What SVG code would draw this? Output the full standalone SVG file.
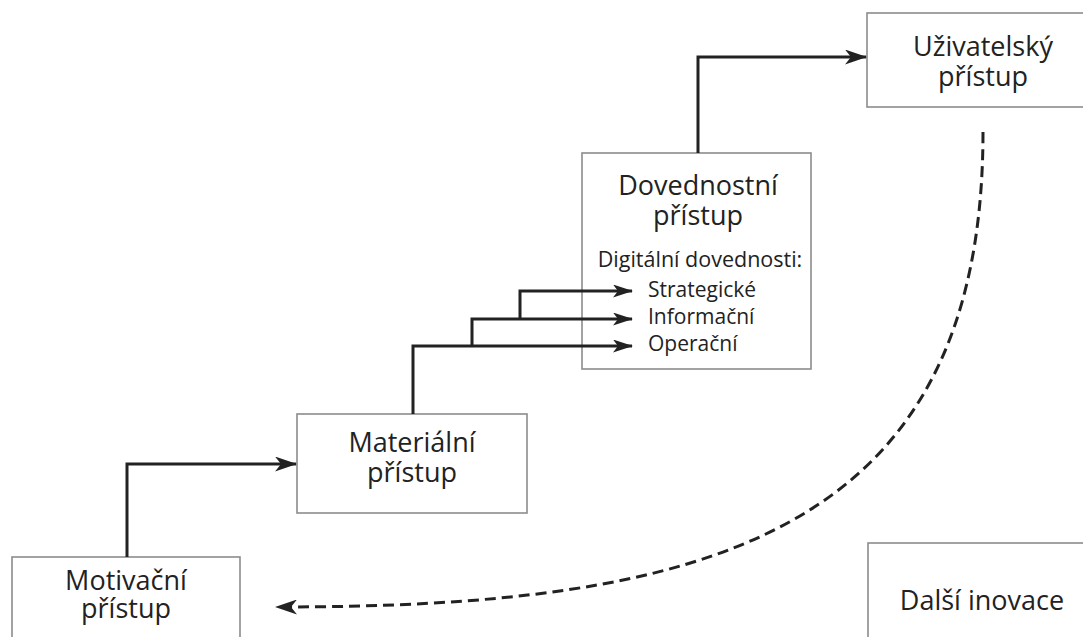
<svg xmlns="http://www.w3.org/2000/svg" width="1083" height="637" viewBox="0 0 1083 637">
<style>
.box{fill:#fff;stroke:#8c8c8c;stroke-width:1.6}
.t{font-family:"Open Sans","Noto Sans","Liberation Sans",sans-serif;fill:#222;text-anchor:middle}
.big{font-size:27px}
.sm{font-size:21.5px}
.lst{font-family:"Open Sans","Noto Sans","Liberation Sans",sans-serif;fill:#222;font-size:21px}
.ln{fill:none;stroke:#222;stroke-width:3}
.dash{fill:none;stroke:#222;stroke-width:3;stroke-dasharray:11 6}
</style>
<defs>
<marker id="ah" markerWidth="22" markerHeight="15" refX="21" refY="7.5" orient="auto" markerUnits="userSpaceOnUse">
<path d="M0,0 L22,7.5 L0,15 L6,7.5 z" fill="#222"/>
</marker>
<marker id="ahs" markerWidth="20" markerHeight="13" refX="19" refY="6.5" orient="auto" markerUnits="userSpaceOnUse">
<path d="M0,0 L20,6.5 L0,13 L5,6.5 z" fill="#222"/>
</marker>
</defs>
<rect width="1083" height="637" fill="#fff"/>
<g id="uzivatelsky">
<rect class="box" x="867" y="13" width="230" height="94"/>
<text class="t big" x="983" y="56">Uživatelský</text>
<text class="t big" x="983" y="86">přístup</text>
</g>
<g id="dovednostni">
<rect class="box" x="582" y="153" width="229" height="216"/>
<text class="t big" x="698" y="195">Dovednostní</text>
<text class="t big" x="698" y="225">přístup</text>
<text class="t sm" x="700" y="267">Digitální dovednosti:</text>
<text class="lst" x="648" y="297">Strategické</text>
<text class="lst" x="648" y="324">Informační</text>
<text class="lst" x="648" y="351">Operační</text>
</g>
<g id="materialni">
<rect class="box" x="297" y="414" width="230" height="99"/>
<text class="t big" x="412" y="452">Materiální</text>
<text class="t big" x="412" y="482">přístup</text>
</g>
<g id="motivacni">
<rect class="box" x="12" y="557" width="228" height="100"/>
<text class="t big" x="126" y="590">Motivační</text>
<text class="t big" x="126" y="618">přístup</text>
</g>
<g id="dalsi">
<rect class="box" x="868" y="543" width="230" height="110"/>
<text class="t big" x="982" y="610">Další inovace</text>
</g>
<g id="connectors">
<path class="ln" d="M127,557 V464 H296" marker-end="url(#ah)"/>
<path class="ln" d="M413,414 V346 H632" marker-end="url(#ahs)"/>
<path class="ln" d="M472,346 V319 H632" marker-end="url(#ahs)"/>
<path class="ln" d="M520,319 V291 H632" marker-end="url(#ahs)"/>
<path class="ln" d="M698,153 V57 H866" marker-end="url(#ah)"/>
<path class="dash" d="M983,132 C983,540 700,607 276,607" marker-end="url(#ah)"/>
</g>
</svg>
